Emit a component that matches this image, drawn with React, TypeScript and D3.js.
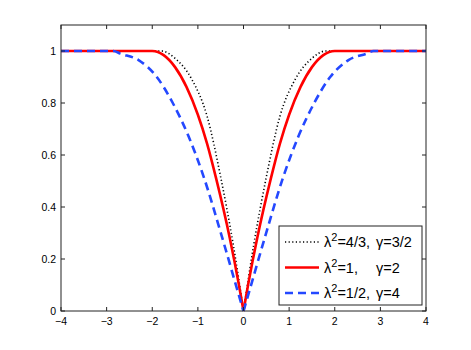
import React from "react";
import * as d3 from "d3";

// values
const xBlack = [-4, -1.8, -1.5, -1.13, -0.8, -0.5, -0.22, 0, 0.22, 0.5, 0.8, 1.13, 1.5, 1.8, 4];
const yBlack = [1, 1, 0.972, 0.89, 0.75, 0.515, 0.25, 0, 0.25, 0.515, 0.75, 0.89, 0.972, 1, 1];

const xRed = [-4, -2, -1.75, -1.5, -1.25, -1, -0.8, -0.6, -0.3, -0.1, 0, 0.1, 0.3, 0.6, 0.8, 1, 1.25, 1.5, 1.75, 2, 4];
const yRed = [1, 1, 0.984, 0.938, 0.862, 0.755, 0.645, 0.51, 0.28, 0.1, 0, 0.1, 0.28, 0.51, 0.645, 0.755, 0.862, 0.938, 0.984, 1, 1];

const xBlue = [-4, -2.85, -2.7, -2.3, -1.9, -1.55, -1.2, -0.88, -0.48, -0.15, 0, 0.15, 0.48, 0.88, 1.2, 1.55, 1.9, 2.3, 2.7, 2.85, 4];
const yBlue = [1, 1, 0.99, 0.965, 0.9, 0.8, 0.67, 0.52, 0.29, 0.09, 0, 0.09, 0.29, 0.52, 0.67, 0.8, 0.9, 0.965, 0.99, 1, 1];

const xTicks = [-4, -3, -2, -1, 0, 1, 2, 3, 4];
const yTicks = [0, 0.2, 0.4, 0.6, 0.8, 1];

const legendLabels = [
  { lam: "=4/3, ", gam: "γ=3/2" },
  { lam: "=1,", gam: "γ=2" },
  { lam: "=1/2, ", gam: "γ=4" },
];

const W = 471, H = 350;
const margin = { top: 25, right: 45, bottom: 39, left: 61 };

const x = d3.scaleLinear().domain([-4, 4]).range([margin.left, W - margin.right]);
const y = d3.scaleLinear().domain([0, 1.1]).range([H - margin.bottom, margin.top]);

const line = d3.line<[number, number]>()
  .x(d => x(d[0]))
  .y(d => y(d[1]))
  .curve(d3.curveMonotoneX);

// draw each side of the cusp separately so the V at 0 stays sharp
function halves(xs: number[], ys: number[]) {
  const pts: [number, number][] = xs.map((v, i) => [v, ys[i]]);
  return [pts.filter(p => p[0] <= 0), pts.filter(p => p[0] >= 0)].map(h => line(h) || "");
}

const series = [
  { xs: xBlack, ys: yBlack, color: "#000", width: 1.6, dash: "1.2,2.4" },
  { xs: xRed, ys: yRed, color: "#ff0000", width: 2.6, dash: "" },
  { xs: xBlue, ys: yBlue, color: "#2448ff", width: 2.6, dash: "8,5" },
];

const fmt = (v: number) => (v < 0 ? "\u2212" + Math.abs(v) : String(v));

export default function App() {
  const x0 = margin.left, x1 = W - margin.right, y0 = H - margin.bottom, y1 = margin.top;
  const font = "'Liberation Sans', Arial, Helvetica, sans-serif";
  const lg = { x: 279, y: 226, w: 143, h: 79 };
  return (
    <svg width={W} height={H} style={{ position: "absolute", left: 0, top: 0, background: "#fff" }} fontFamily={font}>
      <rect x={0} y={0} width={W} height={H} fill="#fff" />
      {series.map((s, i) =>
        halves(s.xs, s.ys).map((d, j) => (
          <path key={`${i}-${j}`} d={d} fill="none" stroke={s.color} strokeWidth={s.width}
            strokeDasharray={s.dash || undefined} strokeLinecap="butt" />
        ))
      )}
      <rect x={x0} y={y1} width={x1 - x0} height={y0 - y1} fill="none" stroke="#222" strokeWidth={1} />
      {xTicks.map(t => (
        <g key={"x" + t}>
          <line x1={x(t)} x2={x(t)} y1={y0} y2={y0 - 4} stroke="#222" />
          <line x1={x(t)} x2={x(t)} y1={y1} y2={y1 + 4} stroke="#222" />
          <text x={x(t)} y={y0 + 14} fontSize={10.5} textAnchor="middle" fill="#000">{fmt(t)}</text>
        </g>
      ))}
      {yTicks.map(t => (
        <g key={"y" + t}>
          <line x1={x0} x2={x0 + 4} y1={y(t)} y2={y(t)} stroke="#222" />
          <line x1={x1} x2={x1 - 4} y1={y(t)} y2={y(t)} stroke="#222" />
          <text x={x0 - 5} y={y(t) + 3.8} fontSize={10.5} textAnchor="end" fill="#000">{fmt(t)}</text>
        </g>
      ))}
      <rect x={lg.x} y={lg.y} width={lg.w} height={lg.h} fill="#fff" stroke="#222" strokeWidth={1} />
      {legendLabels.map((l, i) => {
        const ry = 242 + i * 25.5;
        const s = series[i];
        return (
          <g key={"lg" + i}>
            <line x1={285} x2={319} y1={ry} y2={ry} stroke={s.color} strokeWidth={s.width}
              strokeDasharray={s.dash || undefined} />
            <text x={324} y={ry + 5} fontSize={14.5} fill="#000">
              <tspan>λ</tspan>
              <tspan dy={-6} fontSize={11}>2</tspan>
              <tspan dy={6}>{l.lam}</tspan>
              <tspan x={376}>{l.gam}</tspan>
            </text>
          </g>
        );
      })}
    </svg>
  );
}
